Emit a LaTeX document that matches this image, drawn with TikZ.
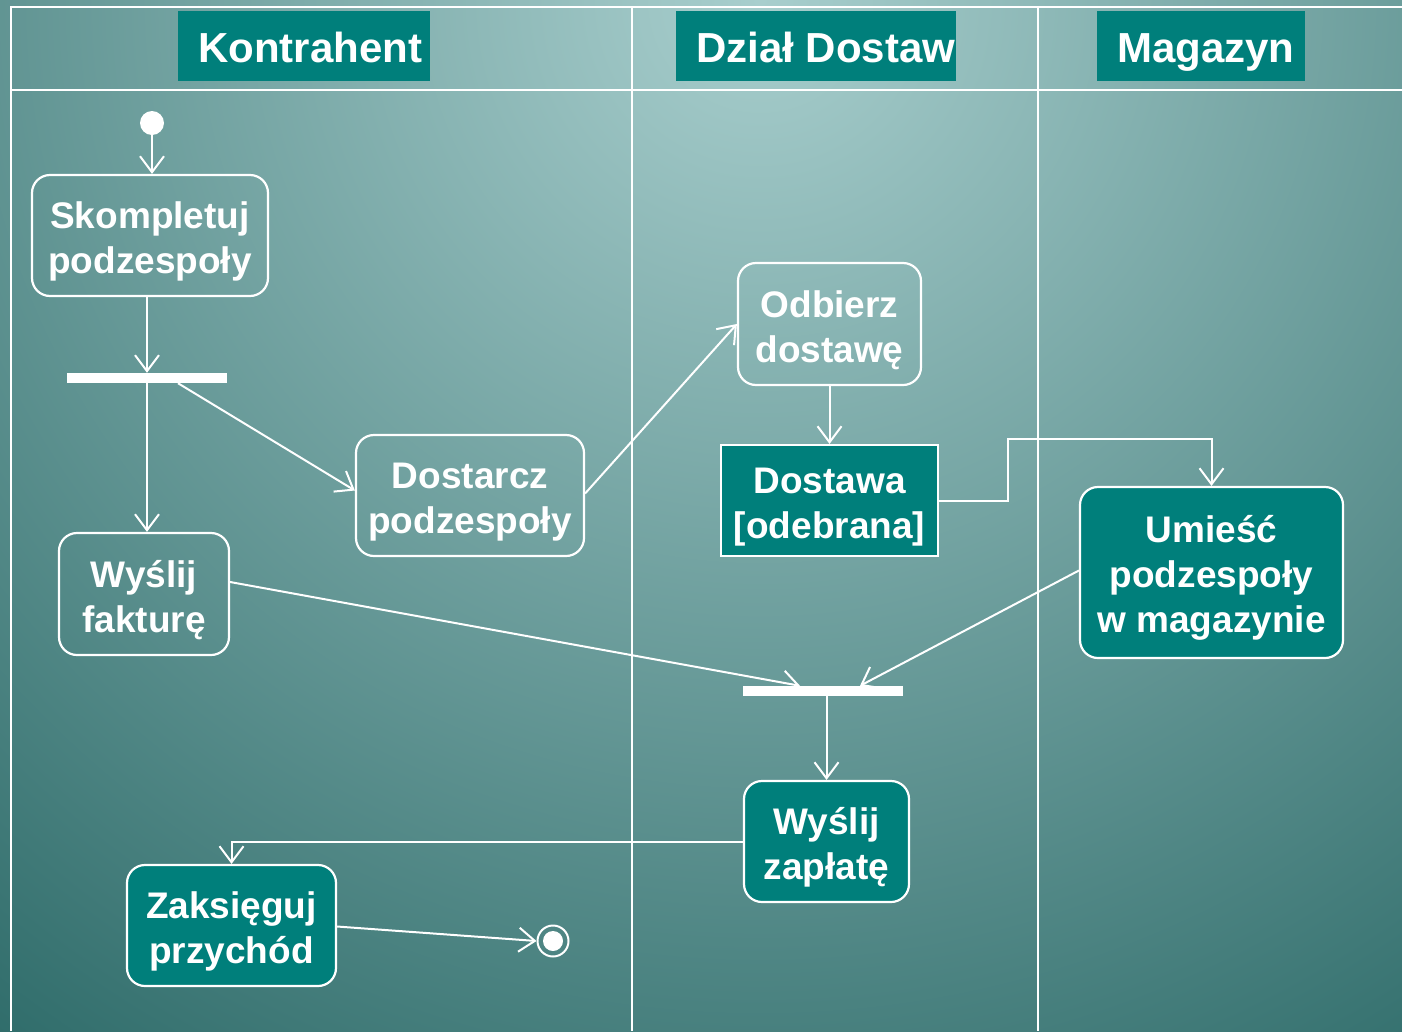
\documentclass[tikz,border=0pt]{standalone}
\usepackage{fontspec}
\setmainfont{Liberation Sans}
\usetikzlibrary{arrows.meta,calc}
\definecolor{tealbox}{HTML}{007F7B}
\definecolor{bglight}{HTML}{A8CECD}
\definecolor{bgdark}{HTML}{2A6866}
\newcommand\topstrut{\rule{0pt}{38.5pt}}
\tikzset{
  frameline/.style={draw=white, line width=2.5pt},
  act/.style={draw=white, line width=2.2pt, rounded corners=18pt, text=white,
    font=\bfseries\fontsize{37}{45}\selectfont, align=center, inner sep=0pt},
  actfill/.style={act, fill=tealbox},
  bar/.style={fill=white, inner sep=0pt, minimum width=160pt, minimum height=10pt},
  arr/.style={draw=white, line width=2pt, -{Straight Barb[length=16pt,width=24pt,line width=2pt]}},
  hdrbox/.style={fill=tealbox, inner sep=0pt, minimum height=70pt},
  hdrtext/.style={text=white, font=\bfseries\fontsize{42}{48}\selectfont, inner sep=0pt, anchor=base west}
}
\begin{document}
\begin{tikzpicture}[x=1pt,y=-1pt]
\useasboundingbox (0,0) rectangle (1402,1031);
\begin{scope}
\clip (0,0) rectangle (1402,1031);
\shade[inner color=bglight, outer color=bgdark] (760,0) circle (1350);
\end{scope}
% frame
\draw[frameline] (11,1031) -- (11,7) -- (1402,7);
\draw[frameline] (11,90) -- (1402,90);
\draw[frameline] (632,7) -- (632,1031);
\draw[frameline] (1038,7) -- (1038,1031);
% headers
\node[hdrbox, minimum width=252pt] (h1) at (304,46) {};
\node[hdrtext] (h1t) at (198,62) {Kontrahent};
\node[hdrbox, minimum width=280pt] (h2) at (816,46) {};
\node[hdrtext] (h2t) at (696,62) {Dział Dostaw};
\node[hdrbox, minimum width=208pt] (h3) at (1201,46) {};
\node[hdrtext] (h3t) at (1117,62) {Magazyn};
% nodes
\node[circle, fill=white, inner sep=0pt, minimum size=24pt] (start) at (152,123) {};
\node[act, minimum width=236pt, minimum height=121pt] (sk) at (150,235.5) {\topstrut Skompletuj\\podzespoły};
\node[bar] (fork) at (147,378) {};
\node[act, minimum width=228pt, minimum height=121pt] (dost) at (470,495.5) {\topstrut Dostarcz\\podzespoły};
\node[act, minimum width=170pt, minimum height=122pt] (wf) at (144,594) {\topstrut Wyślij\\fakturę};
\node[act, minimum width=183pt, minimum height=122pt] (odb) at (829.5,324) {\topstrut Odbierz\\dostawę};
\node[actfill, rounded corners=0pt, minimum width=217pt, minimum height=111pt] (dwa) at (829.5,500.5) {\topstrut Dostawa\\{[odebrana]}};
\node[actfill, minimum width=263pt, minimum height=171pt] (um) at (1211.5,572.5) {\topstrut Umieść\\podzespoły\\w magazynie};
\node[bar] (join) at (823,691) {};
\node[actfill, minimum width=165pt, minimum height=121pt] (wz) at (826.5,841.5) {\topstrut Wyślij\\zapłatę};
\node[actfill, minimum width=209pt, minimum height=121pt] (zak) at (231.5,925.5) {\topstrut Zaksięguj\\przychód};
\node[circle, draw=white, line width=2pt, inner sep=0pt, minimum size=31pt,
  path picture={\fill[white] (path picture bounding box.center) circle (10pt);}] (end) at (553,941) {};
% connectors
\draw[arr] (start) -- (start |- sk.north);
\draw[arr] (fork |- sk.south) -- (fork.north);
\draw[arr] (fork.south) -- (fork.south |- wf.north);
\draw[arr] ([xshift=31pt]fork.south) -- ([yshift=5pt]dost.west);
\draw[arr] ([yshift=2pt]dost.east) -- (odb.west);
\draw[arr] (odb.south) -- (dwa.north);
\draw[arr] (dwa.east) -- ++(69,0) |- ([yshift=47pt]um.north) -- (um.north);
\draw[arr] ([yshift=12pt]wf.east) -- ([xshift=-23pt]join.north);
\draw[arr] ([yshift=2pt]um.west) -- ([xshift=37pt]join.north);
\draw[arr] (wz.north |- join.south) -- (wz.north);
\draw[arr] (wz.west) -| (zak.north);
\draw[arr] ([yshift=-1pt]zak.east) -- (end.west);
\end{tikzpicture}
\end{document}
